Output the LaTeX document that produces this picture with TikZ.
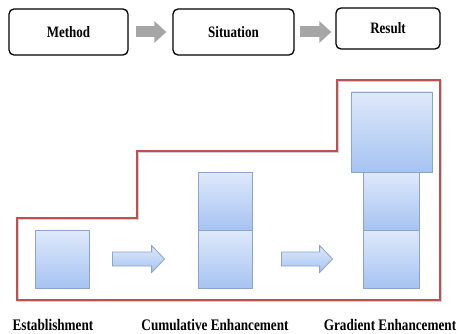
\documentclass[tikz,border=0pt]{standalone}
\usepackage{fontspec}
\setmainfont{Liberation Serif}
\usetikzlibrary{arrows.meta,calc}
\definecolor{frameRed}{RGB}{192,80,77}
\definecolor{boxTop}{RGB}{223,233,251}
\definecolor{boxBottom}{RGB}{166,195,242}
\definecolor{boxEdge}{RGB}{140,164,204}
\definecolor{flowGray}{RGB}{166,166,166}
% labels are set slightly taller than the normal face
\newcommand\tallText[1]{\scalebox{1}[1.22]{#1}}
\tikzset{
  topbox/.style={draw=black, line width=1.3pt, rounded corners=5pt, fill=white,
    inner sep=0pt, font=\bfseries\fontsize{13}{15}\selectfont},
  bluebox/.style={draw=boxEdge, line width=0.8pt, top color=boxTop, bottom color=boxBottom,
    inner sep=0pt, minimum width=54pt, minimum height=58pt},
  grayarrow/.style={draw=flowGray, line width=11pt, -{Triangle[length=12pt,width=21pt]}},
  hollowarrow/.style={draw=boxEdge, line width=0.8pt, top color=boxTop, bottom color=boxBottom},
  stagelabel/.style={anchor=base, inner sep=0pt, font=\bfseries\fontsize{13.2}{15}\selectfont},
  outline/.style={draw=frameRed, line width=2pt, line join=miter}
}
% block arrow from #1 to #2 (both on the same horizontal line)
\newcommand\hollowblockarrow[2]{%
  \draw[hollowarrow] let \p1=(#1), \p2=(#2) in
    (\x1,\y1+7pt) -- (\x2-13pt,\y1+7pt) -- (\x2-13pt,\y1+13.5pt) -- (\x2,\y1)
    -- (\x2-13pt,\y1-13.5pt) -- (\x2-13pt,\y1-7pt) -- (\x1,\y1-7pt) -- cycle;}
\begin{document}
\begin{tikzpicture}[x=1pt,y=-1pt]
\useasboundingbox (0,0) rectangle (465,334);

% process header
\node[topbox, minimum width=119pt, minimum height=46pt] (m) at (68.5,32) {\tallText{Method}};
\node[topbox, minimum width=121pt, minimum height=46pt] (s) at (233.5,32) {\tallText{Situation}};
\node[topbox, minimum width=104pt, minimum height=41pt] (r) at (388,28.5) {\tallText{Result}};
\draw[grayarrow] ([xshift=7pt]m.east) -- ([xshift=-6pt]s.west);
\draw[grayarrow] ([xshift=5pt]s.east) -- ([xshift=-4pt]s.east -| r.west);

% stepped frame around the stages
\draw[gray!35, line width=2pt, line join=miter, shift={(1pt,-1pt)}]
  (17,218) -- (137,218) -- (137,151) -- (337,151) -- (337,80) -- (440,80) -- (440,300) -- (17,300) -- cycle;
\draw[outline]
  (17,218) -- (137,218) -- (137,151) -- (337,151) -- (337,80) -- (440,80) -- (440,300) -- (17,300) -- cycle;

% stage blocks
\node[bluebox] (e) at (62,259) {};
\node[bluebox] (c1) at (225,259) {};
\node[bluebox] (c2) at (225,201) {};
\node[bluebox, minimum width=56pt] (g1) at (391,259) {};
\node[bluebox, minimum width=56pt] (g2) at (391,201) {};
\node[bluebox, minimum width=81pt, minimum height=80pt] (g3) at (391.5,132) {};

% transitions between stages
\coordinate (a1s) at ([xshift=23pt]e.east);
\coordinate (a1e) at ([xshift=-33pt]c1.west);
\coordinate (a2s) at ([xshift=29pt]c1.east);
\coordinate (a2e) at ([xshift=-30pt]g1.west);
\hollowblockarrow{a1s}{a1e}
\hollowblockarrow{a2s}{a2e}

% stage names
\node[stagelabel] (le) at (53,330) {\tallText{Establishment}};
\node[stagelabel] (lc) at (215,330) {\tallText{Cumulative Enhancement}};
\node[stagelabel] (lg) at (390,330) {\tallText{Gradient Enhancement}};
\end{tikzpicture}
\end{document}
